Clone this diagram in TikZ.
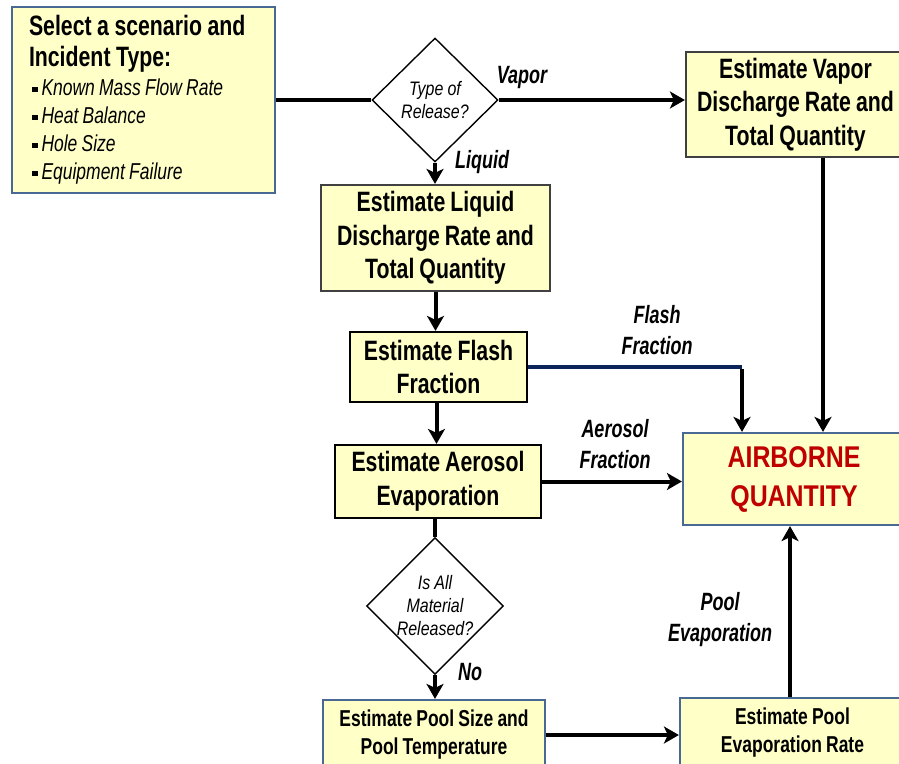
\documentclass[tikz,border=0pt]{standalone}
\usepackage{fontspec}
\setmainfont{Liberation Sans}[FakeStretch=0.76,WordSpace=0.85]
\newfontfamily\lblfont{Liberation Sans}[FakeStretch=0.72,WordSpace=0.85]
\newfontfamily\qfont{Liberation Sans}[FakeStretch=0.82,WordSpace=0.9]
\newfontfamily\airfont{Liberation Sans}[FakeStretch=0.83]
\usetikzlibrary{shapes.geometric,arrows.meta}
\definecolor{boxfill}{RGB}{255,255,200}
\definecolor{bluegray}{RGB}{74,104,148}
\definecolor{darkgray}{RGB}{64,64,64}
\definecolor{navyline}{RGB}{12,36,92}
\definecolor{airred}{RGB}{192,0,0}
\newcommand\bul{\hspace*{3pt}{\upshape\rule[3.5pt]{5.5pt}{5.5pt}}\hspace{4pt}}
\tikzset{
  box/.style={draw, fill=boxfill, line width=2.2pt, inner sep=0pt, align=center,
    font=\bfseries\fontsize{28}{33.5}\selectfont},
  smallbox/.style={box, font=\bfseries\fontsize{23}{28}\selectfont},
  decision/.style={diamond, draw=black, fill=white, line width=1.4pt, inner sep=0pt,
    align=center, font=\qfont\itshape\fontsize{19.5}{23}\selectfont},
  conn/.style={line width=4pt, draw=black},
  arr/.style={conn, -{Stealth[length=15pt,width=17pt,inset=4pt]}},
  lbl/.style={align=center, font=\lblfont\bfseries\itshape\fontsize{25}{31}\selectfont},
}
\begin{document}
\begin{tikzpicture}[x=1pt,y=-1pt]
\useasboundingbox (0,0) rectangle (899,763);
\clip (0,0) rectangle (899,763);
\fill[white] (0,0) rectangle (899,763);

% nodes
\node[box, draw=bluegray, minimum width=263pt, minimum height=186pt,
      text width=229pt, inner xsep=17pt, align=left] (select) at (143.5,100)
  {\fontsize{28}{31}\selectfont\bfseries\spaceskip=5.5pt plus 1pt
   Select a scenario and\\Incident Type:\par\vspace{1pt}
   \fontsize{23}{28}\selectfont\mdseries\itshape\spaceskip=4.2pt plus 1pt
   \bul Known Mass Flow Rate\par\bul Heat Balance\par\bul Hole Size\par\bul Equipment Failure\par};

\node[decision, minimum width=126pt, minimum height=124pt] (type) at (435,100)
  {Type of\\Release?};

\node[box, draw=darkgray, minimum width=219pt, minimum height=105pt] (vapor) at (795.5,104.5)
  {Estimate Vapor\\Discharge Rate and\\Total Quantity};

\node[box, draw=darkgray, minimum width=229pt, minimum height=106pt] (liquid) at (435.5,238)
  {Estimate Liquid\\Discharge Rate and\\Total Quantity};

\node[box, draw=black, minimum width=177pt, minimum height=70pt] (flash) at (438.5,367)
  {Estimate Flash\\Fraction};

\node[box, draw=black, minimum width=206pt, minimum height=73pt] (aerosol) at (438,481.5)
  {Estimate Aerosol\\Evaporation};

\node[box, draw=bluegray, minimum width=222pt, minimum height=92pt, text=airred,
      font=\airfont\bfseries\fontsize{30}{39}\selectfont] (air) at (794,479)
  {AIRBORNE\\QUANTITY};

\node[decision, minimum width=126pt, minimum height=122pt] (isall) at (435,606)
  {Is All\\Material\\Released?};

\node[smallbox, draw=bluegray, minimum width=222pt, minimum height=70pt] (pool) at (434,735)
  {Estimate Pool Size and\\Pool Temperature};

\node[smallbox, draw=bluegray, minimum width=225pt, minimum height=70pt] (pevap) at (792.5,733)
  {Estimate Pool\\Evaporation Rate};

% labels
\node[lbl] (lvapor) at (522,77) {Vapor};
\node[lbl] (lliquid) at (482,162) {Liquid};
\node[lbl] (lflash) at (657,330) {Flash\\Fraction};
\node[lbl] (laero) at (615,444) {Aerosol\\Fraction};
\node[lbl] (lpool) at (720,620) {Pool\\Evaporation};
\node[lbl] (lno) at (470,672) {No};

% connectors
\draw[conn] (select.east) -- (type.west);
\draw[arr] (type.east) -- (type.east -| vapor.west);
\draw[arr] (type.south) -- (type.south |- liquid.north);
\draw[arr] (liquid.south) -- (liquid.south |- flash.north);
\draw[arr] ([xshift=-2pt]flash.south) -- ([xshift=-2pt]flash.south |- aerosol.north);
\coordinate (fbend) at (742,367);
\draw[line width=4pt, draw=navyline] (flash.east) -- (fbend);
\draw[arr] ([yshift=-2pt]fbend) -- (fbend |- air.north);
\draw[arr] ([xshift=27.5pt]vapor.south) -- ([xshift=27.5pt]vapor.south |- air.north);
\draw[arr] (aerosol.east) -- (aerosol.east -| air.west);
\draw[conn] (isall.north |- aerosol.south) -- (isall.north);
\draw[arr] (isall.south) -- (isall.south |- pool.north);
\draw[arr] (pool.east) -- (pool.east -| pevap.west);
\draw[arr] ([xshift=-2.5pt]pevap.north) -- ([xshift=-2.5pt]pevap.north |- air.south);
\end{tikzpicture}
\end{document}
